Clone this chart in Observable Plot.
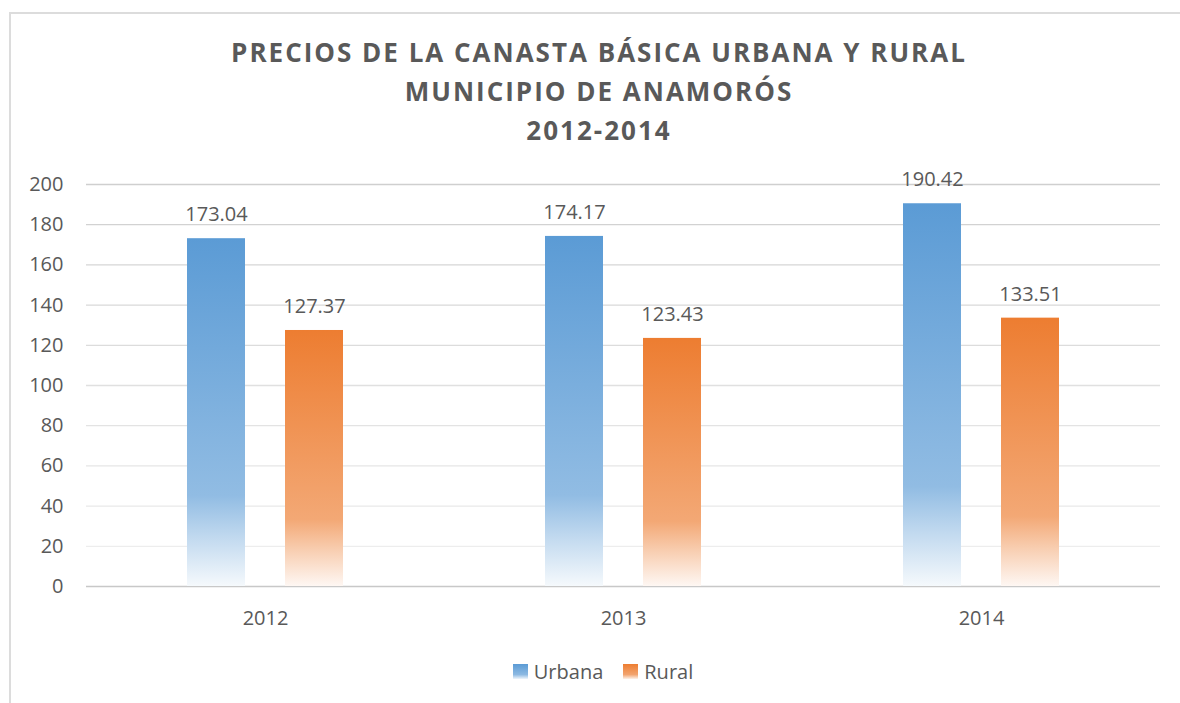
<!DOCTYPE html>
<html>
<head>
<meta charset="utf-8">
<script src="https://cdn.jsdelivr.net/npm/d3@7"></script>
<script src="https://cdn.jsdelivr.net/npm/@observablehq/plot@0.6"></script>
<style>
  html, body { margin: 0; padding: 0; background: #fff; overflow: hidden; }
  body { width: 1180px; height: 703px; position: relative; font-family: "Open Sans", sans-serif; color: #595959; }
  #frame { position: absolute; left: 9px; top: 12px; width: 1200px; height: 800px; border-left: 2px solid #dcdcdc; border-top: 2px solid #dcdcdc; pointer-events: none; }
  #title { position: relative; height: 160px; box-sizing: border-box; padding-top: 33px; padding-left: 18px; width: 1180px; text-align: center; font-weight: 700; font-size: 26px; line-height: 39px; letter-spacing: 2px; color: #595959; }
  #chart { position: relative; height: 480px; }
  #legend { position: relative; height: 63px; display: flex; justify-content: center; align-items: center; padding-left: 26px; box-sizing: border-box; width: 1180px; font-size: 20px; color: #595959; }
  .item { display: flex; align-items: center; margin: 0 10px; }
  .sw { width: 15px; height: 15px; margin-right: 6px; }
</style>
</head>
<body>
<div id="frame"></div>
<div id="title"></div>
<div id="chart"></div>
<div id="legend"></div>
<script>
const titleLines = ["PRECIOS DE LA CANASTA BÁSICA URBANA Y RURAL", "MUNICIPIO DE ANAMORÓS", "2012-2014"];
const years = ["2012", "2013", "2014"];
const series = ["Urbana", "Rural"];
const urbana = [173.04, 174.17, 190.42];
const rural = [127.37, 123.43, 133.51];
const yTicks = [0, 20, 40, 60, 80, 100, 120, 140, 160, 180, 200];
const baseColors = {Urbana: "#5B9BD5", Rural: "#ED7D31"};

document.getElementById("title").innerHTML = titleLines.map(t => `<div>${t}</div>`).join("");

const data = years.flatMap((y, i) => [
  {year: y, serie: "Urbana", value: urbana[i]},
  {year: y, serie: "Rural", value: rural[i]}
]);

const gridColor = v => v === 0 ? "#c8c8c8" : d3.interpolateRgb("#f0f0f0", "#cfcfcf")(v / 200);

const svg = Plot.plot({
  width: 1180,
  height: 480,
  marginTop: 24,
  marginBottom: 54,
  marginLeft: 86,
  marginRight: 20,
  style: {fontFamily: "Open Sans, sans-serif", fontSize: "20px", color: "#595959", background: "transparent", overflow: "visible"},
  fx: {domain: years, padding: 0, label: null, axis: "bottom", tickSize: 0, tickPadding: 24},
  x: {domain: series, paddingInner: 0.408, paddingOuter: 1.03, axis: null},
  y: {domain: [0, 200], ticks: yTicks, tickSize: 0, tickPadding: 23, label: null, tickFormat: d => String(d)},
  marks: [
    ...yTicks.map(v => Plot.ruleY([v], {stroke: gridColor(v), strokeWidth: v === 0 ? 1.5 : 1.3})),
    ...series.map(s => Plot.barY(data.filter(d => d.serie === s), {
      fx: "year", x: "serie", y: "value", fill: `url(#g${s})`
    })),
    Plot.text(data, {
      fx: "year", x: "serie", y: "value",
      text: d => d.value.toFixed(2), dy: -24, fontSize: 20, fill: "#595959", lineAnchor: "middle"
    })
  ]
});

const defs = d3.select(svg).insert("defs", ":first-child");
function addGrad(id, c) {
  const base = d3.rgb(c);
  const mix = t => d3.interpolateRgb(base, "#ffffff")(t);
  const g = defs.append("linearGradient").attr("id", id).attr("x1", 0).attr("y1", 0).attr("x2", 0).attr("y2", 1);
  [[0, mix(0)], [0.74, mix(0.33)], [0.86, mix(0.62)], [1, mix(0.94)]].forEach(([o, col]) => {
    g.append("stop").attr("offset", o).attr("stop-color", col);
  });
}
series.forEach(s => addGrad("g" + s, baseColors[s]));

document.getElementById("chart").appendChild(svg);

const legend = document.getElementById("legend");
series.forEach(s => {
  const c = baseColors[s];
  const item = document.createElement("div");
  item.className = "item";
  const sw = document.createElement("div");
  sw.className = "sw";
  sw.style.background = `linear-gradient(to bottom, ${c} 0%, ${d3.interpolateRgb(c, "#fff")(0.3)} 70%, ${d3.interpolateRgb(c, "#fff")(0.9)} 100%)`;
  const lab = document.createElement("span");
  lab.textContent = s;
  item.appendChild(sw);
  item.appendChild(lab);
  legend.appendChild(item);
});
</script>
</body>
</html>
